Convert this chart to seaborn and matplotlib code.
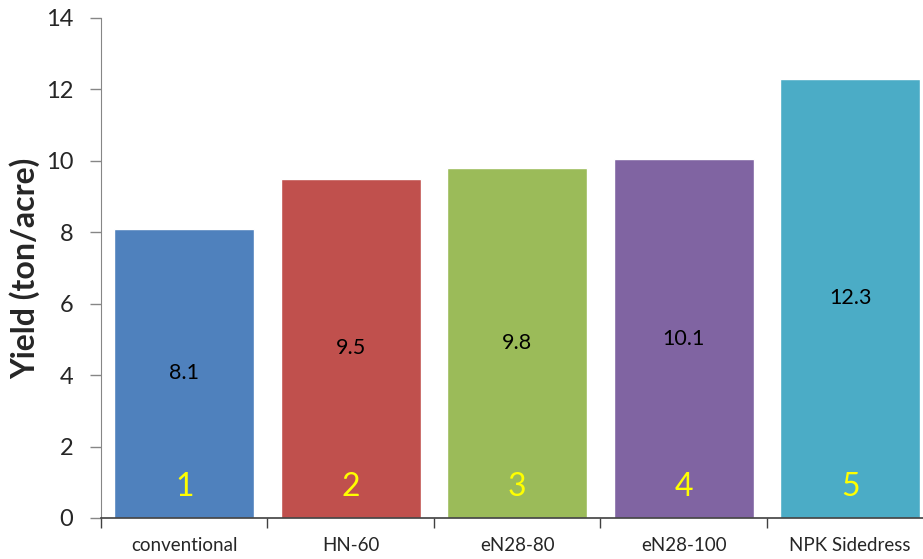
import numpy as np
import pandas as pd
import matplotlib
matplotlib.use('Agg')
import matplotlib.pyplot as plt
import seaborn as sns

sns.set_style('white')
plt.rcParams['font.family'] = ['Lato', 'DejaVu Sans']

#%% DATA
treatments = ['conventional', 'HN-60', 'eN28-80', 'eN28-100', 'NPK Sidedress']
yields = [8.1, 9.5, 9.8, 10.05, 12.3]
value_labels = ['8.1', '9.5', '9.8', '10.1', '12.3']
bar_numbers = ['1', '2', '3', '4', '5']
bar_colors = ['#4F81BD', '#C0504D', '#9BBB59', '#8064A2', '#4BACC6']

df = pd.DataFrame({'treatment': treatments, 'yield': yields})

#%% PLOT
fig = plt.figure(figsize=(9.23, 5.59), dpi=100)
ax = fig.add_axes([101 / 923, 41 / 559, 822 / 923, 500 / 559])
sns.barplot(data=df, x='treatment', y='yield', hue='treatment',
            palette=bar_colors, saturation=1, width=0.84, legend=False, ax=ax)

for i, (v, lab, num) in enumerate(zip(yields, value_labels, bar_numbers)):
    ax.text(i, v / 2, lab, ha='center', va='center', fontsize=15.5, color='black')
    ax.text(i, 0.87, num, ha='center', va='center', fontsize=23, color='#FFFF00')

# category boundaries as tick marks, labels in the middle
ax.set_xticks(np.arange(-0.5, 5, 1), minor=True)
ax.set_yticks(np.arange(0, 15, 2))
ax.set_ylim(0, 14)
ax.set_xlim(-0.5, 4.437)  # right end is cut by the figure edge
ax.set_ylabel('Yield (ton/acre)', fontsize=23, fontweight='bold', labelpad=4)
ax.set_xlabel('')

ax.tick_params(axis='x', which='minor', direction='out', length=7, width=1, color='#404040', bottom=True)
ax.tick_params(axis='x', which='major', length=0, pad=14, labelsize=13.5)
ax.tick_params(axis='y', direction='out', length=8, width=1, color='#868686', pad=12, labelsize=17, left=True)

sns.despine(ax=ax)
ax.spines['left'].set_color('#868686')
ax.spines['bottom'].set_color('#404040')
ax.spines['bottom'].set_linewidth(1.2)

fig.savefig('out.png', dpi=100)
